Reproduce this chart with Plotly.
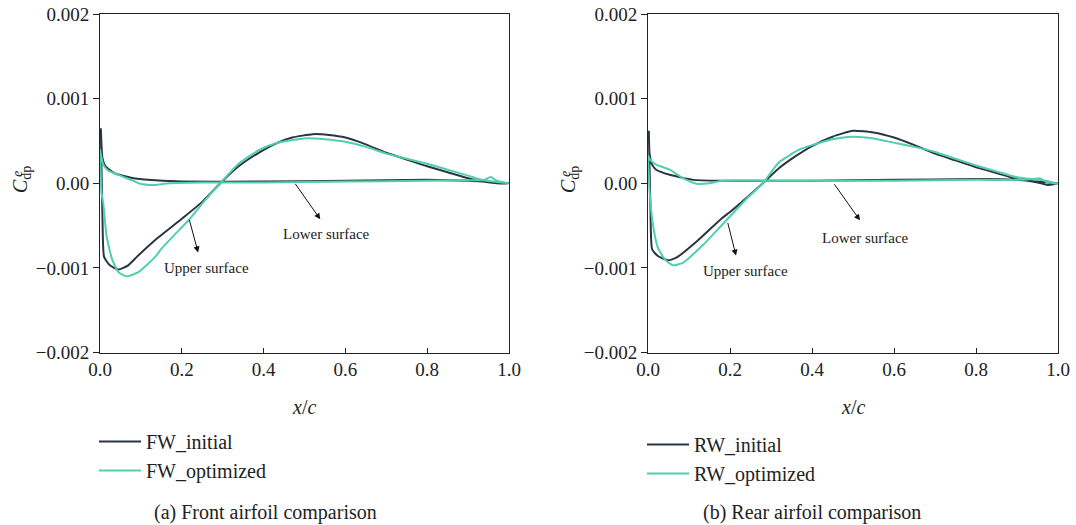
import plotly.graph_objects as go

# ---------------- data ----------------
# Front wing, initial
fw_init_lower_x = [1.0, 0.97, 0.9, 0.8, 0.6, 0.4, 0.2, 0.135, 0.086, 0.037, 0.02, 0.012, 0.006, 0.004, 0.002]
fw_init_lower_y = [0.0, 0.00001, 0.00003, 0.00004, 0.00003, 0.00002, 0.00002, 0.000035, 0.000055, 0.000115, 0.00017, 0.00021, 0.0003, 0.00042, 0.00065]
fw_init_upper_x = [0.002, 0.006, 0.01, 0.024, 0.045, 0.069, 0.09, 0.135, 0.2, 0.25, 0.294, 0.339, 0.388, 0.43, 0.47, 0.52, 0.56, 0.6, 0.65, 0.7, 0.75, 0.8, 0.85, 0.9, 0.93, 0.98, 1.0]
fw_init_upper_y = [0.00065, -0.0004, -0.00087, -0.00097, -0.00102, -0.00097, -0.00087, -0.00067, -0.00042, -0.00022, 0.0, 0.0002, 0.00036, 0.00047, 0.00054, 0.00058, 0.00057, 0.00054, 0.00046, 0.00036, 0.00028, 0.0002, 0.00013, 0.00006, 0.000027, -0.000004, 0.0]

# Front wing, optimized
fw_opt_lower_x = [1.0, 0.97, 0.955, 0.94, 0.9, 0.8, 0.6, 0.4, 0.25, 0.17, 0.135, 0.12, 0.094, 0.086, 0.06, 0.037, 0.02, 0.008, 0.0]
fw_opt_lower_y = [0.0, 0.00003, 0.000075, 0.00004, 0.000035, 0.00003, 0.00002, 0.00001, 0.00001, 0.0, -0.00002, -0.00002, 0.0, 0.00002, 0.00007, 0.000115, 0.00015, 0.00022, 0.0004]
fw_opt_upper_x = [0.0, 0.004, 0.008, 0.016, 0.029, 0.045, 0.065, 0.094, 0.135, 0.151, 0.2, 0.216, 0.257, 0.294, 0.339, 0.388, 0.428, 0.47, 0.5, 0.55, 0.6, 0.65, 0.7, 0.75, 0.8, 0.85, 0.9, 0.93, 0.96, 1.0]
fw_opt_upper_y = [0.0004, -0.00012, -0.00024, -0.00062, -0.00089, -0.00105, -0.0011, -0.00105, -0.00087, -0.00077, -0.00052, -0.00044, -0.0002, 0.0, 0.00023, 0.00039, 0.00047, 0.00051, 0.00053, 0.00052, 0.00049, 0.00043, 0.00035, 0.00029, 0.00023, 0.00016, 0.00009, 0.000044, 0.00002, 0.0]

# Rear wing, initial
rw_init_lower_x = [1.0, 0.95, 0.9, 0.8, 0.6, 0.4, 0.18, 0.11, 0.053, 0.02, 0.01, 0.004, 0.002]
rw_init_lower_y = [0.0, 0.00002, 0.00004, 0.00005, 0.00004, 0.00003, 0.00003, 0.00004, 0.0001, 0.00016, 0.00022, 0.00034, 0.00062]
rw_init_upper_x = [0.002, 0.006, 0.01, 0.024, 0.049, 0.069, 0.118, 0.181, 0.2, 0.28, 0.32, 0.36, 0.4, 0.45, 0.5, 0.55, 0.6, 0.65, 0.7, 0.75, 0.8, 0.85, 0.9, 0.95, 0.975, 1.0]
rw_init_upper_y = [0.00062, -0.0003, -0.00078, -0.00086, -0.00091, -0.00088, -0.00069, -0.00041, -0.00034, 0.0, 0.00018, 0.00032, 0.00044, 0.00055, 0.00062, 0.0006, 0.00054, 0.00045, 0.00035, 0.00027, 0.00019, 0.00012, 0.00005, 0.00001, -0.00002, 0.0]

# Rear wing, optimized
rw_opt_lower_x = [1.0, 0.97, 0.955, 0.94, 0.9, 0.8, 0.6, 0.3, 0.18, 0.15, 0.118, 0.085, 0.053, 0.02, 0.005, 0.0]
rw_opt_lower_y = [-0.00001, 0.00002, 0.00006, 0.00005, 0.00004, 0.00004, 0.00003, 0.00003, 0.00003, 0.0, -0.000006, 0.00006, 0.00016, 0.00022, 0.00028, 0.00033]
rw_opt_upper_x = [0.0, 0.004, 0.012, 0.024, 0.041, 0.061, 0.085, 0.134, 0.181, 0.237, 0.28, 0.32, 0.37, 0.4, 0.45, 0.5, 0.55, 0.6, 0.65, 0.7, 0.75, 0.8, 0.85, 0.9, 0.935, 0.97, 1.0]
rw_opt_upper_y = [0.00033, -0.0001, -0.00049, -0.00076, -0.0009, -0.00097, -0.00094, -0.00073, -0.00049, -0.0002, 0.0, 0.00025, 0.0004, 0.00045, 0.00052, 0.00055, 0.00053, 0.00048, 0.00043, 0.00037, 0.00029, 0.00021, 0.00014, 0.00007, 0.00005, 0.00003, -0.00001]

x_tick_vals = [0.0, 0.2, 0.4, 0.6, 0.8, 1.0]
x_tick_text = ["0.0", "0.2", "0.4", "0.6", "0.8", "1.0"]
y_tick_vals = [0.002, 0.001, 0.0, -0.001, -0.002]
y_tick_text = ["0.002", "0.001", "0.00", "\u22120.001", "\u22120.002"]

series_names = ["FW_initial", "FW_optimized", "RW_initial", "RW_optimized"]
captions = ["(a) Front airfoil comparison", "(b) Rear airfoil comparison"]

# ---------------- styling ----------------
DARK = "#2a3447"
GREEN = "#4fcfab"
FONT = "Liberation Serif"
W, H = 1076, 525


def fx(px):
    return px / W


def fy(py):
    return 1 - py / H


fig = go.Figure()


def add(xl, yl, xu, yu, name, color, xa, ya, legend):
    fig.add_trace(go.Scatter(
        x=xl + xu, y=yl + yu, mode="lines", name=name,
        line=dict(color=color, width=2, shape="spline", smoothing=0.5),
        xaxis=xa, yaxis=ya, legend=legend))


add(fw_init_lower_x, fw_init_lower_y, fw_init_upper_x, fw_init_upper_y, series_names[0], DARK, "x", "y", "legend")
add(fw_opt_lower_x, fw_opt_lower_y, fw_opt_upper_x, fw_opt_upper_y, series_names[1], GREEN, "x", "y", "legend")
add(rw_init_lower_x, rw_init_lower_y, rw_init_upper_x, rw_init_upper_y, series_names[2], DARK, "x2", "y2", "legend2")
add(rw_opt_lower_x, rw_opt_lower_y, rw_opt_upper_x, rw_opt_upper_y, series_names[3], GREEN, "x2", "y2", "legend2")

ydom = [fy(352.5), fy(14)]
axis_common = dict(showline=True, linecolor="#222", linewidth=1, mirror=True,
                   showgrid=False, zeroline=False, automargin=False,
                   ticklabeloverflow="allow",
                   tickfont=dict(family=FONT, size=19, color="#222"))

xa = dict(axis_common, range=[0, 1], tickvals=x_tick_vals, ticktext=x_tick_text,
          ticks="inside", ticklen=5, tickcolor="#222")
ya = dict(axis_common, range=[-0.002, 0.002], tickvals=y_tick_vals, ticktext=y_tick_text,
          ticks="outside", ticklen=6, tickcolor="#222", domain=ydom)

leg_common = dict(xanchor="left", yanchor="top", bgcolor="rgba(0,0,0,0)", tracegroupgap=0,
                  itemwidth=42, font=dict(family=FONT, size=20, color="#222"))

fig.update_layout(
    width=W, height=H,
    margin=dict(l=0, r=0, t=0, b=0, autoexpand=False),
    paper_bgcolor="white", plot_bgcolor="white",
    xaxis=dict(xa, domain=[fx(100), fx(509)], anchor="y"),
    yaxis=dict(ya, anchor="x"),
    xaxis2=dict(xa, domain=[fx(648), fx(1058)], anchor="y2"),
    yaxis2=dict(ya, anchor="x2"),
    legend=dict(leg_common, x=fx(94), y=fy(422)),
    legend2=dict(leg_common, x=fx(642), y=fy(425)),
    showlegend=True,
)

ann = []
# axis titles
for cx in [304, 853]:
    ann.append(dict(text="<i>x</i>/<i>c</i>", x=fx(cx), y=fy(407), xref="paper", yref="paper",
                    xanchor="center", yanchor="middle",
                    showarrow=False, font=dict(family=FONT, size=20, color="#222")))
for cx in [21, 569]:
    ann.append(dict(text="<i>C</i><sub>dp</sub>", x=fx(cx), y=fy(180), xref="paper", yref="paper",
                    xanchor="center", yanchor="middle",
                    showarrow=False, textangle=-90, font=dict(family=FONT, size=20, color="#222")))
for cx in [17, 565]:
    ann.append(dict(text="<i>e</i>", x=fx(cx), y=fy(174), xref="paper", yref="paper",
                    xanchor="center", yanchor="middle",
                    showarrow=False, textangle=-90, font=dict(family=FONT, size=14, color="#222")))
# captions
for cx, t in zip([265, 812], captions):
    ann.append(dict(text=t, x=fx(cx), y=fy(512), xref="paper", yref="paper",
                    xanchor="center", yanchor="middle",
                    showarrow=False, font=dict(family=FONT, size=20, color="#222")))


# surface annotations with arrows (data coordinates)
def arrow(xr, yr, tail, head):
    ann.append(dict(x=head[0], y=head[1], ax=tail[0], ay=tail[1], xref=xr, yref=yr,
                    axref=xr, ayref=yr, showarrow=True, arrowhead=2, arrowsize=1.2,
                    arrowwidth=1, arrowcolor="#111", text=""))


def label(xr, yr, pos, txt):
    ann.append(dict(x=pos[0], y=pos[1], xref=xr, yref=yr, text=txt, showarrow=False,
                    xanchor="center", yanchor="middle",
                    font=dict(family=FONT, size=15, color="#222")))


arrow("x", "y", (0.475, 0.00001), (0.5386, -0.000426))
arrow("x", "y", (0.2174, -0.000414), (0.2399, -0.000817))
label("x", "y", (0.553, -0.000604), "Lower surface")
label("x", "y", (0.261, -0.001006), "Upper surface")

arrow("x2", "y2", (0.452, 0.000006), (0.517, -0.000438))
arrow("x2", "y2", (0.1937, -0.00045), (0.2146, -0.000855))
label("x2", "y2", (0.5307, -0.000643), "Lower surface")
label("x2", "y2", (0.2366, -0.001032), "Upper surface")

fig.update_layout(annotations=ann)
fig.write_html("out.html", config={"displayModeBar": False},
               post_script="document.body.style.margin='0';document.body.style.overflow='hidden';")
